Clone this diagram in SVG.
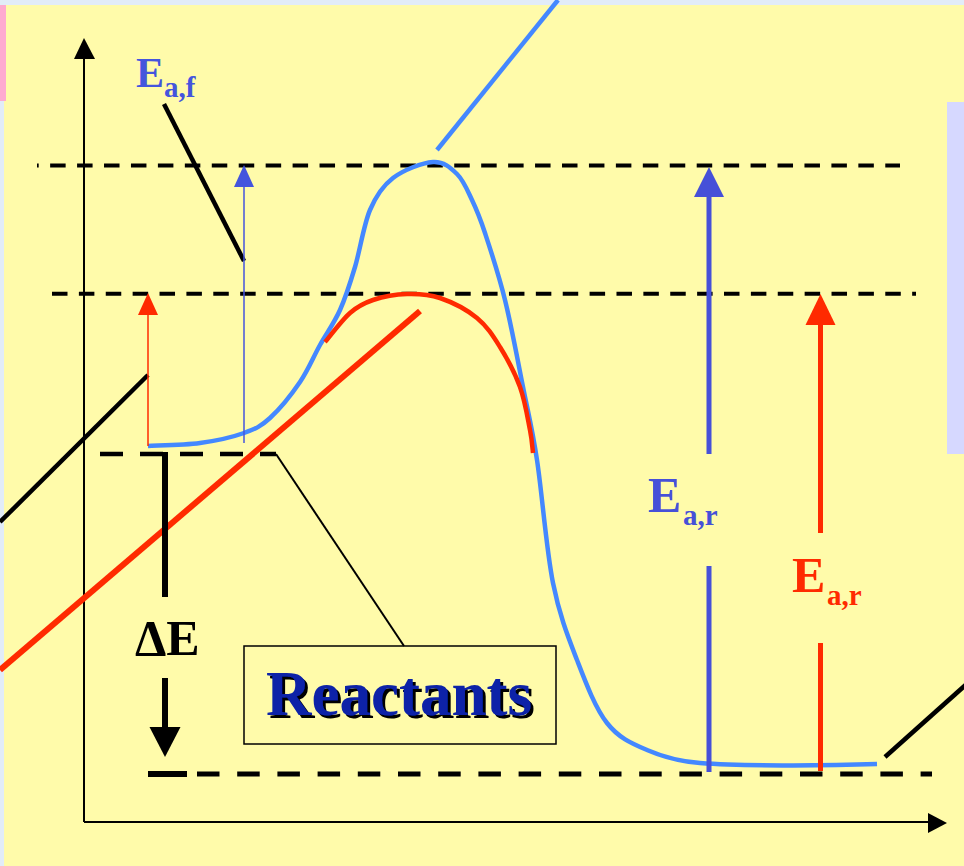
<svg xmlns="http://www.w3.org/2000/svg" width="964" height="866" viewBox="0 0 964 866">
<style>
.lbl{font-family:"Liberation Serif","Times New Roman",serif;font-weight:bold}
.dash{stroke:#000;fill:none}
.blueC{stroke:#4488FF;stroke-width:4.5;fill:none}
.redC{stroke:#FF2A00;stroke-width:4.5;fill:none}
</style>
<defs>
<filter id="shadow" x="-5%" y="-20%" width="115%" height="150%">
<feDropShadow dx="3" dy="3" stdDeviation="0" flood-color="#000" flood-opacity="1"/>
</filter>
</defs>
<rect width="964" height="866" fill="#FFFBAA"/>
<rect x="0" y="0" width="964" height="5" fill="#E2ECF8"/>
<rect x="0" y="100" width="4" height="766" fill="#E2ECF8"/>
<rect x="0" y="5" width="6" height="96" fill="#FFAAD0"/>
<rect x="947" y="102" width="17" height="352" fill="#D6D8FF"/>

<g id="axes" stroke="#000" fill="#000">
<line x1="84" y1="58" x2="84" y2="822" stroke-width="2"/>
<polygon points="84,38 74,59 95,59" stroke="none"/>
<line x1="84" y1="822" x2="930" y2="822" stroke-width="2"/>
<polygon points="947,823 928,813 928,833" stroke="none"/>
</g>

<g id="levels">
<line class="dash" x1="37" y1="165.5" x2="900" y2="165.5" stroke-width="4" stroke-dasharray="15.5 11.44" stroke-dashoffset="13.8"/>
<line class="dash" x1="52" y1="293.7" x2="916" y2="293.7" stroke-width="4" stroke-dasharray="15.5 11.38"/>
<line class="dash" x1="100" y1="454" x2="276" y2="454" stroke-width="4.5" stroke-dasharray="23 17"/>
<line class="dash" x1="197" y1="774" x2="932" y2="774" stroke-width="5" stroke-dasharray="22.5 17.7"/>
</g>

<g id="curves">
<path class="blueC" d="M148,446 C156.7,445.5 184,445.2 200,443 C216,440.8 232.3,437.2 244,433 C255.7,428.8 260.7,426.5 270,418 C279.3,409.5 291.7,394.2 300,382 C308.3,369.8 313.3,357 320,345 C326.7,333 334.2,323 340,310 C345.8,297 350,283.7 355,267 C360,250.3 363.7,224.8 370,210 C376.3,195.2 382.5,186 393,178 C403.5,170 422.3,162.7 433,162 C443.7,161.3 450.5,167.7 457,174 C463.5,180.3 467.3,190.2 472,200 C476.7,209.8 479.5,216.3 485,233 C490.5,249.7 498.7,274.3 505,300 C511.3,325.7 517.7,360.3 523,387 C528.3,413.7 532,427.3 537,460 C542,492.7 546.3,549.7 553,583 C559.7,616.3 568,636.7 577,660 C586,683.3 595.3,708 607,723 C618.7,738 631.5,743.3 647,750 C662.5,756.7 680,761.5 700,763 C740,766 820,766 877,764"/>
<path class="redC" d="M325,342 C329.2,337.2 342,320 350,313 C358,306 363.5,303.2 373,300 C382.5,296.8 395.8,294.3 407,294 C418.2,293.7 428.3,294 440,298 C451.7,302 467,309.8 477,318 C487,326.2 492.8,335.5 500,347 C507.2,358.5 515,373.2 520,387 C525,400.8 527.8,419 530,430 C532.2,441 532.5,449.2 533,453"/>
<line x1="437" y1="150" x2="558" y2="0" stroke="#4488FF" stroke-width="4.5"/>
<line x1="0" y1="670" x2="420" y2="311" stroke="#FF2A00" stroke-width="6"/>
</g>

<g id="pointers" stroke="#000" stroke-width="4.5">
<line x1="164" y1="104" x2="244" y2="261"/>
<line x1="0" y1="522" x2="148" y2="375"/>
<line x1="885" y1="757" x2="970" y2="681"/>
<line x1="276" y1="454" x2="404" y2="646" stroke-width="2"/>
</g>

<g id="arrow-ea-f-small">
<line x1="148" y1="446" x2="148" y2="312" stroke="#FF2A00" stroke-width="1.5"/>
<polygon points="148,293 138,315 158,315" fill="#FF2A00"/>
<line x1="244" y1="443" x2="244" y2="185" stroke="#4455DD" stroke-width="1.5"/>
<polygon points="244,165 234,187 254,187" fill="#4455DD"/>
</g>

<g id="arrow-ea-r-blue" fill="#4650D8">
<line x1="709" y1="195" x2="709" y2="454" stroke="#4650D8" stroke-width="5"/>
<line x1="709" y1="566" x2="709" y2="772" stroke="#4650D8" stroke-width="5"/>
<polygon points="709,167 694,197 724,197"/>
<text class="lbl" x="648" y="512" font-size="50">E<tspan x="683" y="525" font-size="29">a,r</tspan></text>
</g>

<g id="arrow-ea-r-red" fill="#FF2A00">
<line x1="820.5" y1="323" x2="820.5" y2="533" stroke="#FF2A00" stroke-width="5"/>
<line x1="820.5" y1="643" x2="820.5" y2="771" stroke="#FF2A00" stroke-width="5"/>
<polygon points="820.5,294 805.5,325 835.5,325"/>
<text class="lbl" x="792" y="592" font-size="50">E<tspan x="827" y="605" font-size="29">a,r</tspan></text>
</g>

<g id="label-ea-f" fill="#4455DD">
<text class="lbl" x="136" y="87" font-size="42">E<tspan x="164" y="97" font-size="29">a,f</tspan></text>
</g>

<g id="delta-e">
<line x1="165" y1="452" x2="165" y2="597" stroke="#000" stroke-width="6"/>
<line x1="165" y1="678" x2="165" y2="730" stroke="#000" stroke-width="6"/>
<polygon points="165,757 149.5,727 180.5,727" fill="#000"/>
<line x1="148" y1="774" x2="187" y2="774" stroke="#000" stroke-width="6"/>
<text class="lbl" x="135" y="655" font-size="50" fill="#000">ΔE</text>
</g>

<g id="reactants">
<rect x="244" y="646" width="312" height="98" fill="none" stroke="#000" stroke-width="1.5"/>
<text class="lbl" x="266" y="715" font-size="63" fill="#0A22A8" filter="url(#shadow)">Reactants</text>
</g>
</svg>
